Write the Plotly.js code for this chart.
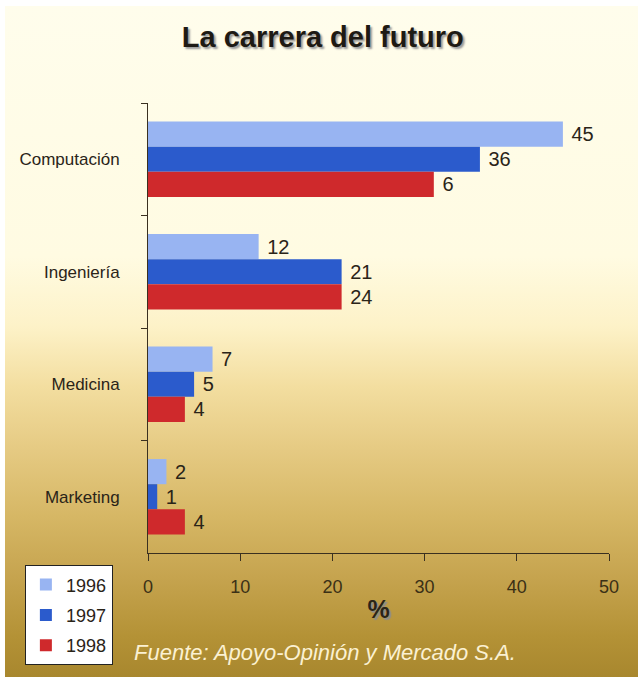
<!DOCTYPE html>
<html>
<head>
<meta charset="utf-8">
<script src="https://cdn.plot.ly/plotly-3.0.1.min.js"></script>
<style>
  html, body { margin: 0; padding: 0; background: #ffffff; }
  #bg {
    position: absolute; left: 5px; top: 6px; width: 633px; height: 671px;
    background: linear-gradient(to bottom, #fffdec 0px, #fffbe2 250px, #fdf2c8 320px, #f3dea0 380px, #e6cb84 440px, #d6b765 510px, #c6a44f 570px, #b49236 630px, #a8872e 671px);
  }
  #chart { position: absolute; left: 0; top: 0; width: 638px; height: 677px; }
</style>
</head>
<body>
<div id="bg"></div>
<div id="chart"></div>
<script>
// Data
const categories = ["Computación", "Ingeniería", "Medicina", "Marketing"];
const years = ["1996", "1997", "1998"];
const values1996 = [45, 12, 7, 2];
const values1997 = [36, 21, 5, 1];
const values1998 = [31, 21, 4, 4];
const labels1996 = ["45", "12", "7", "2"];
const labels1997 = ["36", "21", "5", "1"];
const labels1998 = ["6", "24", "4", "4"];
const xTicks = [0, 10, 20, 30, 40, 50];

const colors = ["#98b4f2", "#2b5bcc", "#cf292c"];
const sans = "Liberation Sans, Arial, sans-serif";

const series = [values1996, values1997, values1998];
const seriesLabels = [labels1996, labels1997, labels1998];

const traces = years.map((yr, i) => ({
  type: "bar",
  orientation: "h",
  name: yr,
  legendgroup: yr,
  y: categories,
  x: series[i],
  text: seriesLabels[i].map(t => " " + t),
  textposition: "outside",
  constraintext: "none",
  cliponaxis: false,
  textfont: { family: sans, size: 20, color: "#2a2418" },
  marker: { color: colors[i], line: { width: 0 } },
  hoverinfo: "x+y+name"
}));

const layout = {
  width: 638,
  height: 677,
  margin: { l: 148, r: 29, t: 103, b: 124, autoexpand: false },
  paper_bgcolor: "rgba(0,0,0,0)",
  plot_bgcolor: "rgba(0,0,0,0)",
  barmode: "group",
  bargap: 0.33,
  bargroupgap: 0,
  title: {
    text: "La carrera del futuro",
    font: { family: sans, size: 29, weight: "bold", color: "#1e1a14", shadow: "2px 2px 2px #9a9a9a" },
    x: 0.506, xref: "container", xanchor: "center",
    y: 0.945, yref: "container", yanchor: "middle"
  },
  xaxis: {
    range: [0, 50],
    tickvals: xTicks,
    ticktext: xTicks.map(String),
    ticks: "outside",
    ticklen: 7,
    tickcolor: "#3a3020",
    showline: true,
    linecolor: "#3a3020",
    linewidth: 1,
    showgrid: false,
    zeroline: false,
    automargin: false,
    ticklabelstandoff: 10,
    tickfont: { family: sans, size: 18, color: "#3b3016" },
    title: {
      text: "%",
      standoff: 4,
      font: { family: sans, size: 25, weight: "bold", color: "#2a2418", shadow: "2px 2px 1px #8c8c8c" }
    },
    fixedrange: true
  },
  yaxis: {
    type: "category",
    categoryorder: "array",
    categoryarray: categories,
    autorange: "reversed",
    tickson: "boundaries",
    ticks: "outside",
    ticklen: 6,
    tickcolor: "#3a3020",
    showline: true,
    linecolor: "#3a3020",
    linewidth: 1,
    showgrid: false,
    zeroline: false,
    automargin: false,
    ticklabelstandoff: 24,
    tickfont: { family: sans, size: 17, color: "#2a2418" },
    fixedrange: true
  },
  showlegend: true,
  legend: {
    x: 0.039, xanchor: "left", xref: "container",
    y: 0.165, yanchor: "top", yref: "container",
    bgcolor: "#ffffff",
    bordercolor: "#222222",
    borderwidth: 1,
    traceorder: "grouped",
    tracegroupgap: 4,
    itemwidth: 30,
    font: { family: sans, size: 18, color: "#2a2418" }
  },
  annotations: [{
    text: "Fuente: Apoyo-Opinión y Mercado S.A.",
    xref: "paper", yref: "paper",
    x: -0.035, xanchor: "left",
    y: -0.22, yanchor: "middle",
    showarrow: false,
    font: { family: sans, size: 22, style: "italic", color: "#fbf1d2" }
  }]
};

Plotly.newPlot("chart", traces, layout, { displayModeBar: false, staticPlot: false });
</script>
</body>
</html>
